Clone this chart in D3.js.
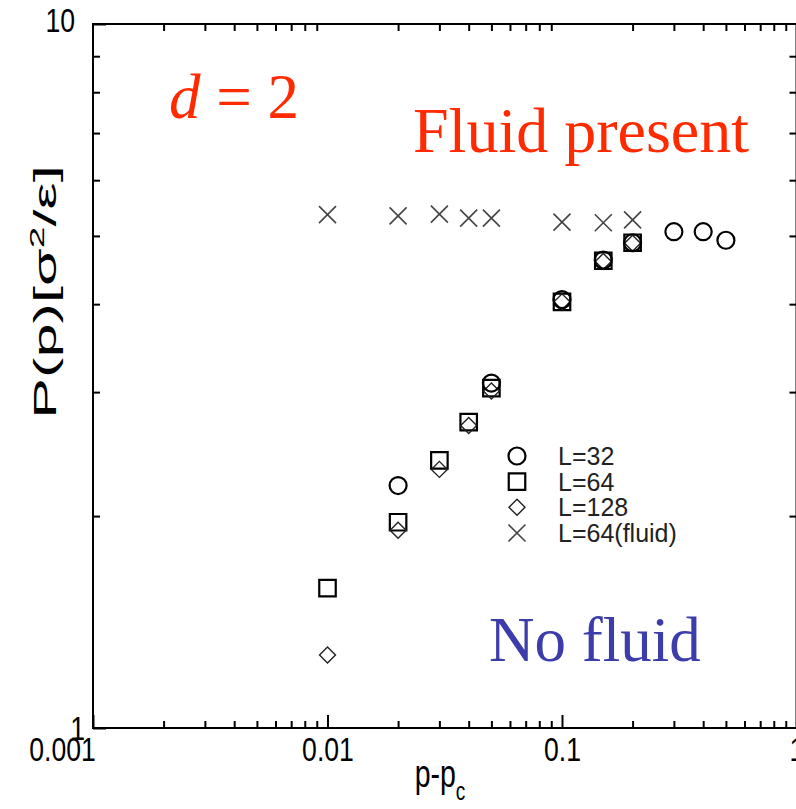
<!DOCTYPE html>
<html>
<head>
<meta charset="utf-8">
<script src="https://cdn.jsdelivr.net/npm/d3@7"></script>
<style>
  body { margin: 0; background: #fff; }
  svg { display: block; }
  .tick text { font-family: "Liberation Sans", Arial, sans-serif; fill: #000; }
  .axis line { stroke: #000; stroke-width: 2px; }
</style>
</head>
<body>
<svg></svg>
<script>
// L=32
const p32 = [0.02, 0.05, 0.1, 0.15, 0.2, 0.3, 0.4, 0.5];
const pressure32 = [2.21, 3.09, 4.06, 4.62, 4.89, 5.07, 5.07, 4.93];
// L=64
const p64 = [0.01, 0.02, 0.03, 0.04, 0.05, 0.1, 0.15, 0.2];
const pressure64 = [1.58, 1.96, 2.40, 2.72, 3.04, 4.03, 4.61, 4.89];
// L=128
const p128 = [0.01, 0.02, 0.03, 0.04, 0.05, 0.1, 0.15, 0.2];
const pressure128 = [1.27, 1.91, 2.33, 2.69, 3.01, 4.03, 4.60, 4.88];
// L=64 (fluid)
const pFluid = [0.01, 0.02, 0.03, 0.04, 0.05, 0.1, 0.15, 0.2];
const pressureFluid = [5.36, 5.34, 5.37, 5.30, 5.30, 5.23, 5.22, 5.27];

const legendLabels = ["L=32", "L=64", "L=128", "L=64(fluid)"];
const xMajorTicks = [0.001, 0.01, 0.1, 1];
const xTickLabels = ["0.001", "0.01", "0.1", "1"];
const yMajorTicks = [1, 10];
const yTickLabels = ["1", "10"];

function drawChart() {
    const svgWidth = 796, svgHeight = 809;
    const margin = { top: 24, right: -0.5, bottom: 81, left: 93 };

    const svg = d3.select("svg")
        .attr("width", svgWidth)
        .attr("height", svgHeight);

    const x = d3.scaleLog()
        .domain([0.001, 1])
        .range([margin.left, svgWidth - margin.right]);

    const y = d3.scaleLog()
        .domain([1, 10])
        .range([svgHeight - margin.bottom, margin.top]);

    // minor ticks 2..9 for each decade
    const xMinor = [];
    for (let e = -3; e < 0; e++) {
        for (let k = 2; k <= 9; k++) xMinor.push(k * Math.pow(10, e));
    }
    const yMinor = d3.range(2, 10);

    const bottom = svgHeight - margin.bottom;
    const right = svgWidth - margin.right;

    // minor ticks, all four sides, inward
    svg.append("g").attr("class", "axis")
        .attr("transform", `translate(0, ${bottom})`)
        .call(d3.axisBottom(x).tickValues(xMinor).tickSize(-7).tickFormat(""));
    svg.append("g").attr("class", "axis")
        .attr("transform", `translate(0, ${margin.top})`)
        .call(d3.axisTop(x).tickValues(xMinor).tickSize(-7).tickFormat(""));
    svg.append("g").attr("class", "axis")
        .attr("transform", `translate(${margin.left}, 0)`)
        .call(d3.axisLeft(y).tickValues(yMinor).tickSize(-7).tickFormat(""));
    svg.append("g").attr("class", "axis")
        .attr("transform", `translate(${right}, 0)`)
        .call(d3.axisRight(y).tickValues(yMinor).tickSize(-7).tickFormat(""));

    // major ticks with labels
    const xAxis = svg.append("g").attr("class", "axis")
        .attr("transform", `translate(0, ${bottom})`)
        .call(d3.axisBottom(x).tickValues(xMajorTicks).tickSize(-13)
            .tickFormat((d, i) => xTickLabels[i]));
    xAxis.selectAll(".tick text")
        .attr("font-size", 28)
        .attr("x", 0)
        .attr("y", 0)
        .attr("dy", 0)
        .attr("transform", (d, i) => `translate(${i === 0 ? -31 : 0}, 33) scale(0.95, 1.2)`);

    const yAxis = svg.append("g").attr("class", "axis")
        .attr("transform", `translate(${margin.left}, 0)`)
        .call(d3.axisLeft(y).tickValues(yMajorTicks).tickSize(-13)
            .tickFormat((d, i) => yTickLabels[i]));
    yAxis.selectAll(".tick text")
        .attr("font-size", 28)
        .attr("x", 0)
        .attr("y", 0)
        .attr("dy", 0)
        .attr("transform", (d, i) => i === 0
            ? "translate(-8, 11) scale(0.95, 1.2)"
            : "translate(-18, 7) scale(0.95, 1.2)");

    svg.selectAll(".axis .domain").remove();

    // frame
    svg.append("rect")
        .attr("x", margin.left)
        .attr("y", margin.top)
        .attr("width", right - margin.left)
        .attr("height", bottom - margin.top)
        .attr("fill", "none")
        .attr("stroke", "#000")
        .attr("stroke-width", 2);

    // axis titles
    const xTitle = svg.append("text")
        .attr("transform", `translate(440, 787) scale(0.95, 1.3)`)
        .attr("text-anchor", "middle")
        .attr("font-family", "Liberation Sans, Arial, sans-serif")
        .attr("font-size", 30);
    xTitle.append("tspan").text("p-p");
    xTitle.append("tspan").attr("font-size", 20).attr("dy", 10).text("c");

    const yTitle = svg.append("text")
        .attr("transform", `translate(56, 292) rotate(-90) scale(1.7, 0.88)`)
        .attr("text-anchor", "middle")
        .attr("font-family", "Liberation Sans, Arial, sans-serif")
        .attr("font-size", 36);
    yTitle.append("tspan").text("P(p)[σ");
    yTitle.append("tspan").attr("font-size", 23).attr("dy", -14).text("2");
    yTitle.append("tspan").attr("dy", 14).text("/ε]");

    // annotations
    const dText = svg.append("text")
        .attr("x", 169).attr("y", 118)
        .attr("fill", "#ff2a00")
        .attr("font-family", "Liberation Serif, Times New Roman, serif")
        .attr("font-size", 63);
    dText.append("tspan").attr("font-style", "italic").text("d");
    dText.append("tspan").text(" = 2");

    svg.append("text")
        .attr("x", 413).attr("y", 152)
        .attr("fill", "#ff2a00")
        .attr("font-family", "Liberation Serif, Times New Roman, serif")
        .attr("font-size", 64)
        .text("Fluid present");

    svg.append("text")
        .attr("x", 489).attr("y", 661)
        .attr("fill", "#3c3caa")
        .attr("font-family", "Liberation Serif, Times New Roman, serif")
        .attr("font-size", 63)
        .text("No fluid");

    // markers
    const circle = d3.symbol().type(d3.symbolCircle).size(227);
    const square = d3.symbol().type(d3.symbolSquare).size(272);
    const diamond = d3.symbol().type(d3.symbolSquare).size(128);
    const crossPath = "M-8.5,-8.5L8.5,8.5M-8.5,8.5L8.5,-8.5";

    function drawSeries(px, py, pathD, rotate, strokeW, color) {
        svg.append("g").selectAll("path")
            .data(px.map((p, i) => ({ p, v: py[i] })))
            .join("path")
            .attr("transform", d => `translate(${x(d.p)}, ${y(d.v)})` + (rotate ? " rotate(45)" : ""))
            .attr("d", pathD)
            .attr("fill", "none")
            .attr("stroke", color)
            .attr("stroke-width", strokeW);
    }

    drawSeries(pFluid, pressureFluid, crossPath, false, 1.6, "#444");
    drawSeries(p64, pressure64, square, false, 2.2, "#000");
    drawSeries(p128, pressure128, diamond, true, 1.4, "#222");
    drawSeries(p32, pressure32, circle, false, 2.2, "#000");

    // legend
    const legendX = 517, legendTextX = 558;
    const legendY = d3.scalePoint().domain(legendLabels).range([456, 533]);
    const legendShapes = [circle(), square(), diamond(), crossPath];
    const legendW = [2.2, 2.2, 1.4, 1.6];
    const legendColor = ["#000", "#000", "#222", "#444"];

    const legend = svg.append("g");
    legendLabels.forEach((lab, i) => {
        legend.append("path")
            .attr("transform", `translate(${legendX}, ${legendY(lab)})` + (i === 2 ? " rotate(45)" : ""))
            .attr("d", legendShapes[i])
            .attr("fill", "none")
            .attr("stroke", legendColor[i])
            .attr("stroke-width", legendW[i]);
        legend.append("text")
            .attr("x", legendTextX)
            .attr("y", legendY(lab) + 9)
            .attr("font-family", "Liberation Sans, Arial, sans-serif")
            .attr("font-size", 25)
            .attr("fill", "#222")
            .text(lab);
    });
}

drawChart();
</script>
</body>
</html>
